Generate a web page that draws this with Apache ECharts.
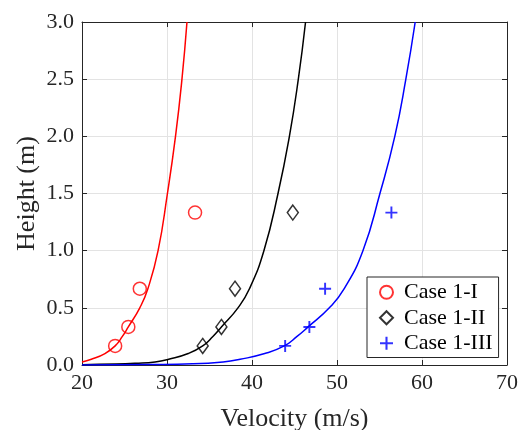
<!DOCTYPE html>
<html>
<head>
<meta charset="utf-8">
<script src="https://cdn.jsdelivr.net/npm/echarts@6/dist/echarts.min.js"></script>
<style>
html,body{margin:0;padding:0;background:#fff;}
#chart{width:518px;height:430px;}
</style>
</head>
<body>
<div id="chart"></div>
<script>
// Measured points (velocity m/s, height m)
const markerHeights = [0.167, 0.333, 0.667, 1.333];
const case1I_v = [23.9, 25.45, 26.8, 33.3];
const case1II_v = [34.2, 36.4, 38.0, 44.8];
const case1III_v = [43.9, 46.75, 48.6, 56.4];

// Fitted profile curves
const fitI_v = [20.0, 21.1, 22.7, 23.9, 24.75, 25.45, 26.8, 27.75, 28.95, 30.05, 31.0, 31.76, 32.35];
const fitI_h = [0.027, 0.05, 0.1, 0.167, 0.25, 0.333, 0.5, 0.667, 1.0, 1.5, 2.0, 2.5, 3.0];
const fitII_v = [20.0, 24.0, 26.3, 28.6, 30.2, 32.5, 34.2, 35.4, 36.4, 38.35, 39.7, 41.4, 43.06, 44.4, 45.45, 46.3];
const fitII_h = [0.003, 0.008, 0.015, 0.027, 0.05, 0.1, 0.167, 0.25, 0.333, 0.5, 0.667, 1.0, 1.5, 2.0, 2.5, 3.0];
const fitIII_v = [20.0, 28.0, 33.0, 36.6, 38.6, 41.5, 43.8, 45.3, 46.6, 49.1, 50.85, 53.05, 55.05, 56.8, 58.1, 59.2];
const fitIII_h = [0.001, 0.004, 0.01, 0.027, 0.05, 0.1, 0.167, 0.25, 0.333, 0.5, 0.667, 1.0, 1.5, 2.0, 2.5, 3.0];

const legendNames = ['Case 1-I', 'Case 1-II', 'Case 1-III'];
const xLabelName = 'Velocity (m/s)';
const yLabelName = 'Height (m)';

const zip = (a, b) => a.map((v, i) => [v, b[i]]);
const FONT = "'Times New Roman', 'Liberation Serif', 'DejaVu Serif', serif";
const TXT = '#262626';
const plusPath = 'path://M-1.6,-10 L1.6,-10 L1.6,-1.6 L10,-1.6 L10,1.6 L1.6,1.6 L1.6,10 L-1.6,10 L-1.6,1.6 L-10,1.6 L-10,-1.6 L-1.6,-1.6 Z';

const chart = echarts.init(document.getElementById('chart'), null, {renderer: 'canvas'});

const axisLineStyle = {show: true, onZero: false, lineStyle: {color: TXT, width: 1}};
const axisTickStyle = {show: true, inside: true, length: 5, lineStyle: {color: TXT, width: 1}};
const gridLineStyle = {show: true, lineStyle: {color: '#e3e3e3', width: 1}};
const labelStyle = {color: TXT, fontSize: 22, fontFamily: FONT};
const nameStyle = {color: TXT, fontSize: 26, fontFamily: FONT};
const boxAxisCommon = {
  axisLine: axisLineStyle, axisTick: axisTickStyle,
  splitLine: {show: false}, axisLabel: {show: false}
};

const lineCommon = {
  type: 'line', showSymbol: false, symbol: 'none', smooth: 0.5,
  silent: true, z: 2, clip: true
};

chart.setOption({
  animation: false,
  backgroundColor: '#fff',
  grid: {left: 82, top: 22, right: 11, bottom: 65, containLabel: false, outerBoundsMode: 'none'},
  xAxis: [
    {type: 'value', min: 20, max: 70, interval: 10, position: 'bottom',
      name: xLabelName, nameLocation: 'middle', nameGap: 41, nameTextStyle: nameStyle,
      axisLine: axisLineStyle, axisTick: axisTickStyle, splitLine: gridLineStyle,
      axisLabel: Object.assign({}, labelStyle, {margin: 7})},
    Object.assign({type: 'value', min: 20, max: 70, interval: 10, position: 'top'}, boxAxisCommon)
  ],
  yAxis: [
    {type: 'value', min: 0, max: 3, interval: 0.5, position: 'left',
      name: yLabelName, nameLocation: 'middle', nameGap: 42, nameMoveOverlap: false, nameTextStyle: nameStyle,
      axisLine: axisLineStyle, axisTick: axisTickStyle, splitLine: gridLineStyle,
      axisLabel: Object.assign({}, labelStyle, {margin: 8, formatter: v => v.toFixed(1)})},
    Object.assign({type: 'value', min: 0, max: 3, interval: 0.5, position: 'right'}, boxAxisCommon)
  ],
  legend: {
    orient: 'vertical', left: 367, top: 277,
    data: legendNames,
    padding: [4, 6, 3, 12],
    itemGap: 3, itemWidth: 13, itemHeight: 13,
    symbolKeepAspect: true,
    borderColor: TXT, borderWidth: 1, backgroundColor: '#fff',
    textStyle: {color: '#000', fontSize: 22, fontFamily: FONT, lineHeight: 22.5, padding: [0, 0, 0, 6]},
    selectedMode: false
  },
  series: [
    Object.assign({}, lineCommon, {name: 'fitI', data: zip(fitI_v, fitI_h), lineStyle: {color: '#ff0000', width: 1.5}}),
    Object.assign({}, lineCommon, {name: 'fitII', data: zip(fitII_v, fitII_h), lineStyle: {color: '#000000', width: 1.5}}),
    Object.assign({}, lineCommon, {name: 'fitIII', data: zip(fitIII_v, fitIII_h), lineStyle: {color: '#0000ff', width: 1.5}}),
    {type: 'scatter', name: legendNames[0], data: zip(case1I_v, markerHeights), symbol: 'circle', symbolSize: 13, z: 3,
      itemStyle: {color: 'rgba(255,255,255,0)', borderColor: '#ff0000', borderWidth: 1.5}},
    {type: 'scatter', name: legendNames[1], data: zip(case1II_v, markerHeights), symbol: 'diamond', symbolSize: [11, 15], z: 3,
      itemStyle: {color: 'rgba(255,255,255,0)', borderColor: '#000000', borderWidth: 1.5}},
    {type: 'scatter', name: legendNames[2], data: zip(case1III_v, markerHeights), symbol: plusPath, symbolSize: 12, z: 3,
      itemStyle: {color: '#0000ff'}}
  ]
});
</script>
</body>
</html>
